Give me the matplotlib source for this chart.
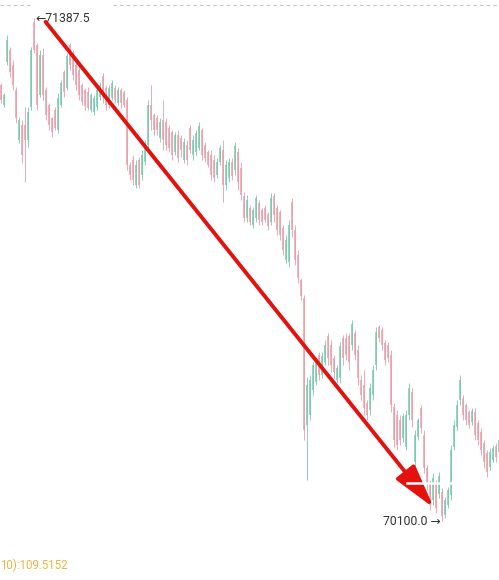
import matplotlib
matplotlib.use("Agg")
import matplotlib.pyplot as plt
import numpy as np
from matplotlib.patches import FancyArrowPatch

# candle data (price)
highs = [
    71222, 71196, 71344, 71314, 71280, 71211, 71134, 71127, 71160, 71160,
    71314, 71387.5, 71324, 71306, 71311, 71211, 71170, 71134, 71160, 71196,
    71229, 71255, 71298, 71324, 71306, 71280, 71268, 71222, 71209, 71211,
    71196, 71191, 71209, 71224, 71247, 71216, 71216, 71229, 71216, 71211,
    71209, 71204, 71186, 71019, 71037, 71024, 71032, 71050, 71076, 71178,
    71216, 71145, 71140, 71132, 71178, 71132, 71114, 71101, 71096, 71101,
    71088, 71081, 71076, 71114, 71088, 71101, 71122, 71106, 71070, 71050,
    71050, 71037, 71030, 71063, 71076, 71024, 71030, 71030, 71070, 71055,
    71019, 70942, 70935, 70909, 70904, 70935, 70922, 70902, 70909, 70891,
    70940, 70940, 70909, 70896, 70858, 70832, 70871, 70927, 70858, 70794,
    70722, 70679, 70469, 70474, 70507, 70518, 70533, 70533, 70564, 70582,
    70564, 70525, 70500, 70558, 70576, 70582, 70582, 70615, 70589, 70551,
    70474, 70487, 70410, 70454, 70500, 70597, 70602, 70597, 70564, 70558,
    70538, 70402, 70384, 70372, 70377, 70384, 70454, 70441, 70333, 70364,
    70397, 70333, 70244, 70205, 70223, 70205, 70226, 70185, 70162, 70187,
    70295, 70359, 70410, 70474, 70423, 70402, 70384, 70390, 70390, 70359,
    70338, 70308, 70282, 70287, 70295, 70300, 70315,
]
lows = [
    71170, 71160, 71268, 71237, 71204, 71119, 71068, 71017, 70968, 71058,
    71152, 71298, 71152, 71186, 71178, 71127, 71101, 71083, 71101, 71094,
    71160, 71186, 71204, 71255, 71229, 71204, 71178, 71165, 71152, 71152,
    71147, 71140, 71152, 71178, 71170, 71152, 71158, 71178, 71170, 71165,
    71158, 71160, 70999, 70973, 70960, 70953, 70953, 70973, 71012, 71050,
    71101, 71088, 71088, 71070, 71050, 71050, 71045, 71024, 71037, 71019,
    71032, 71017, 71012, 71042, 71024, 71037, 71050, 71024, 71019, 71006,
    70973, 70968, 70978, 71012, 70917, 70948, 70968, 70973, 70986, 70948,
    70922, 70866, 70866, 70858, 70850, 70866, 70858, 70858, 70866, 70845,
    70858, 70866, 70832, 70820, 70781, 70761, 70750, 70827, 70756, 70710,
    70666, 70308, 70205, 70359, 70423, 70448, 70461, 70466, 70500, 70500,
    70482, 70466, 70454, 70454, 70500, 70512, 70487, 70538, 70512, 70448,
    70410, 70372, 70359, 70372, 70410, 70487, 70558, 70538, 70500, 70507,
    70379, 70290, 70282, 70295, 70302, 70282, 70359, 70341, 70238, 70308,
    70326, 70223, 70180, 70128, 70141, 70121, 70159, 70100, 70108, 70134,
    70154, 70282, 70333, 70397, 70359, 70346, 70338, 70346, 70308, 70295,
    70269, 70236, 70213, 70231, 70251, 70251, 70269,
]
opens = [
    71216, 71165, 71275, 71306, 71268, 71204, 71076, 71114, 71114, 71076,
    71160, 71378, 71319, 71191, 71293, 71204, 71165, 71132, 71152, 71101,
    71165, 71250, 71209, 71319, 71293, 71268, 71255, 71216, 71204, 71198,
    71152, 71147, 71160, 71186, 71239, 71209, 71165, 71183, 71209, 71170,
    71204, 71198, 71178, 71012, 71024, 70960, 71024, 70986, 71019, 71063,
    71165, 71140, 71132, 71081, 71127, 71122, 71106, 71096, 71045, 71088,
    71081, 71024, 71063, 71106, 71037, 71045, 71055, 71101, 71063, 71045,
    71037, 71024, 70986, 71019, 71050, 70960, 70978, 71019, 70999, 71045,
    71004, 70932, 70876, 70902, 70858, 70876, 70914, 70896, 70902, 70886,
    70866, 70932, 70902, 70891, 70850, 70768, 70763, 70917, 70845, 70781,
    70717, 70671, 70346, 70372, 70436, 70456, 70525, 70474, 70507, 70574,
    70551, 70518, 70461, 70466, 70569, 70569, 70574, 70551, 70582, 70538,
    70461, 70448, 70402, 70384, 70423, 70500, 70597, 70589, 70556, 70551,
    70525, 70392, 70372, 70359, 70313, 70290, 70372, 70430, 70251, 70315,
    70390, 70320, 70236, 70198, 70154, 70198, 70169, 70174, 70116, 70141,
    70167, 70290, 70341, 70410, 70415, 70397, 70379, 70354, 70379, 70351,
    70328, 70300, 70274, 70238, 70256, 70292, 70277,
]
closes = [
    71178, 71191, 71332, 71250, 71216, 71132, 71127, 71037, 71076, 71147,
    71306, 71306, 71165, 71293, 71191, 71140, 71114, 71096, 71106, 71183,
    71222, 71198, 71291, 71268, 71242, 71216, 71191, 71173, 71163, 71158,
    71191, 71183, 71204, 71216, 71183, 71165, 71209, 71222, 71178, 71204,
    71170, 71165, 71012, 70986, 70973, 71012, 70960, 71037, 71063, 71165,
    71127, 71101, 71101, 71122, 71076, 71063, 71055, 71037, 71088, 71030,
    71050, 71070, 71024, 71050, 71076, 71094, 71111, 71037, 71030, 71012,
    70986, 70978, 71019, 71055, 70960, 71012, 71019, 70983, 71060, 70968,
    70935, 70876, 70922, 70866, 70896, 70927, 70871, 70866, 70871, 70855,
    70927, 70884, 70845, 70832, 70794, 70820, 70858, 70845, 70768, 70722,
    70676, 70333, 70448, 70461, 70500, 70507, 70474, 70523, 70551, 70518,
    70500, 70482, 70492, 70548, 70518, 70525, 70507, 70605, 70525, 70466,
    70423, 70390, 70372, 70441, 70487, 70584, 70569, 70551, 70512, 70518,
    70397, 70308, 70295, 70308, 70369, 70372, 70441, 70359, 70320, 70359,
    70338, 70236, 70192, 70141, 70210, 70134, 70215, 70113, 70154, 70180,
    70282, 70346, 70397, 70461, 70372, 70359, 70346, 70382, 70320, 70308,
    70282, 70251, 70226, 70277, 70287, 70264, 70308,
]
indicator_label = "10):109.5152"

up_color = "#78c9ad"
down_color = "#eb9da8"
label_fonts = ["Roboto", "DejaVu Sans"]

highs = np.array(highs, dtype=float)
lows = np.array(lows, dtype=float)
opens = np.array(opens, dtype=float)
closes = np.array(closes, dtype=float)
idx = np.arange(len(highs))
colors = [up_color if c >= o else down_color for o, c in zip(opens, closes)]

fig = plt.figure(figsize=(4.99, 5.80), dpi=100)
ax = fig.add_axes([0, 0, 1, 1])
ax.set_xlim(-0.2, 166.13)
ax.set_ylim(69949.2, 71434)
ax.axis("off")

# faint top dashed grid line
ax.hlines(71421, -0.2, 10, color="#c4c4c4", lw=0.8, linestyles=(0, (3, 3)))
ax.hlines(71421, 37.5, 166.13, color="#c4c4c4", lw=0.8, linestyles=(0, (3, 3)))

# candles: wick + body
ax.vlines(idx, lows, highs, colors=colors, lw=0.6)
ax.vlines(idx, np.minimum(opens, closes), np.maximum(opens, closes),
          colors=colors, lw=1.1)

# high / low markers
i_hi = int(np.argmax(highs))
i_lo = int(np.argmin(lows))
ax.text(i_hi + 0.7, highs[i_hi], "\u2190" + f"{highs[i_hi]:.1f}",
        ha="left", va="center", fontsize=8.8, color="#333333", family=label_fonts)
ax.text(i_lo - 0.4, lows[i_lo], f"{lows[i_lo]:.1f} \u2192",
        ha="right", va="center", fontsize=8.8, color="#333333", family=label_fonts)

# trend arrow
arrow = FancyArrowPatch((15.0, 71378), (144.4, 70134),
                        arrowstyle="-|>,head_length=1.35,head_width=0.36",
                        mutation_scale=20, color="#e3120f", lw=2.8,
                        shrinkA=0, shrinkB=0, zorder=5)
ax.add_patch(arrow)
ax.plot([135.5, 150.5], [70198, 70198], color="white", lw=1.8, zorder=6)

fig.text(0.0, 1 - 565 / 580, indicator_label, ha="left", va="center",
         fontsize=8.3, color="#f0b43c", family=label_fonts)

fig.savefig("out.png", dpi=100, facecolor="white")
